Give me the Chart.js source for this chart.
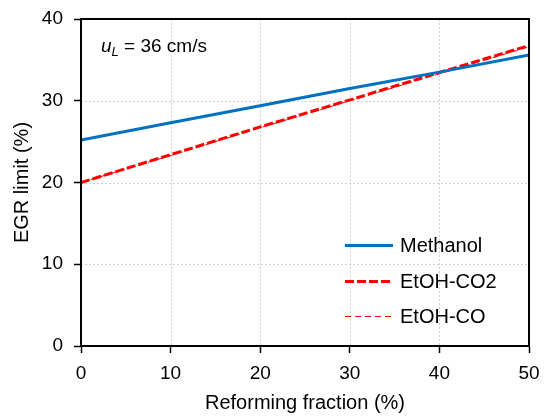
<!DOCTYPE html>
<html>
<head>
<meta charset="utf-8">
<script src="https://cdn.jsdelivr.net/npm/chart.js@4"></script>
<style>
  html, body { margin: 0; padding: 0; background: #fff; }
  #wrap { width: 544px; height: 417px; }
</style>
</head>
<body>
<div id="wrap"><canvas id="egrChart" width="544" height="417"></canvas></div>
<script>
// Dados
const reformingFraction = [0, 10, 20, 30, 40, 50];
const methanol = [25.2, 27.3, 29.4, 31.5, 33.5, 35.6];
const etohCO2 = [20.0, 23.4, 26.8, 30.1, 33.45, 36.75];
const etohCO = [20.0, 23.3, 26.7, 30.0, 33.3, 36.6];
const yTicks = [0, 10, 20, 30, 40];

const FONT = "'Liberation Sans', Arial, sans-serif";

function toPoints(values) {
    return reformingFraction.map((x, i) => ({ x: x, y: values[i] }));
}

// Grade pontilhada, moldura, anotação e legenda
const framePlugin = {
    id: 'frame',
    beforeDatasetsDraw(chart) {
        const { ctx, chartArea: a, scales } = chart;
        ctx.save();
        ctx.strokeStyle = '#d0d0d0';
        ctx.lineWidth = 1;
        ctx.setLineDash([2, 2]);
        scales.x.ticks.forEach(t => {
            if (t.value <= 0 || t.value >= 50) return;
            const px = Math.round(scales.x.getPixelForValue(t.value)) + 0.5;
            ctx.beginPath(); ctx.moveTo(px, a.top); ctx.lineTo(px, a.bottom); ctx.stroke();
        });
        scales.y.ticks.forEach(t => {
            if (t.value <= 0 || t.value >= 40) return;
            const py = Math.round(scales.y.getPixelForValue(t.value)) + 0.5;
            ctx.beginPath(); ctx.moveTo(a.left, py); ctx.lineTo(a.right, py); ctx.stroke();
        });
        ctx.restore();
    },
    afterDraw(chart) {
        const { ctx, chartArea: a } = chart;
        ctx.save();
        ctx.strokeStyle = '#000';
        ctx.lineWidth = 2;
        ctx.strokeRect(a.left, a.top, a.right - a.left, a.bottom - a.top);

        // Anotação u_L = 36 cm/s
        ctx.fillStyle = '#000';
        ctx.textBaseline = 'alphabetic';
        let x = a.left + 20;
        const y = a.top + 33;
        ctx.font = 'italic 19px ' + FONT;
        ctx.fillText('u', x, y);
        x += ctx.measureText('u').width;
        ctx.font = 'italic 13px ' + FONT;
        ctx.fillText('L', x, y + 4);
        x += ctx.measureText('L').width;
        ctx.font = '19px ' + FONT;
        ctx.fillText(' = 36 cm/s', x, y);

        // Legenda
        const rows = [245.5, 281.5, 316.5];
        chart.data.datasets.forEach((ds, i) => {
            const ly = rows[i];
            ctx.strokeStyle = ds.borderColor;
            ctx.lineWidth = ds.borderWidth;
            ctx.setLineDash(ds.borderDash || []);
            ctx.beginPath(); ctx.moveTo(345, ly); ctx.lineTo(393, ly); ctx.stroke();
            ctx.setLineDash([]);
            ctx.font = '20px ' + FONT;
            ctx.textBaseline = 'middle';
            ctx.fillText(ds.label, 400, ly + 1);
        });
        ctx.restore();
    }
};

document.addEventListener("DOMContentLoaded", () => {
    const ctx = document.getElementById('egrChart').getContext('2d');

    new Chart(ctx, {
        type: 'line',
        data: {
            datasets: [
                {
                    label: 'Methanol',
                    data: toPoints(methanol),
                    borderColor: '#0070C0',
                    borderWidth: 3,
                    pointRadius: 0,
                    fill: false
                },
                {
                    label: 'EtOH-CO2',
                    data: toPoints(etohCO2),
                    borderColor: '#FF0000',
                    borderWidth: 3,
                    borderDash: [9, 3],
                    pointRadius: 0,
                    fill: false
                },
                {
                    label: 'EtOH-CO',
                    data: toPoints(etohCO),
                    borderColor: '#FF0000',
                    borderWidth: 1,
                    borderDash: [6, 4],
                    pointRadius: 0,
                    fill: false
                }
            ]
        },
        options: {
            responsive: false,
            animation: false,
            layout: { padding: { left: 0, top: 19, right: 15, bottom: 0 } },
            plugins: {
                legend: { display: false },
                tooltip: { enabled: false }
            },
            scales: {
                x: {
                    type: 'linear',
                    min: 0,
                    max: 50,
                    afterFit: s => {
                        s.height = 71;
                        s.paddingLeft = 0;
                        s.paddingRight = 0;
                    },
                    ticks: {
                        stepSize: 10,
                        color: '#000',
                        padding: 9,
                        font: { family: FONT, size: 19 }
                    },
                    grid: {
                        drawOnChartArea: false,
                        drawTicks: true,
                        tickLength: 7,
                        tickColor: '#000',
                        tickWidth: 1.5
                    },
                    border: { display: true, color: '#000', width: 2 },
                    title: {
                        display: true,
                        text: 'Reforming fraction (%)',
                        color: '#000',
                        font: { family: FONT, size: 20 },
                        padding: { top: 0, bottom: 2 }
                    }
                },
                y: {
                    min: 0,
                    max: 40,
                    afterFit: s => {
                        s.width = 81;
                        s.paddingTop = 0;
                        s.paddingBottom = 0;
                    },
                    afterBuildTicks: s => { s.ticks = yTicks.map(v => ({ value: v })); },
                    ticks: {
                        color: '#000',
                        padding: 11,
                        font: { family: FONT, size: 19 }
                    },
                    grid: {
                        drawOnChartArea: false,
                        drawTicks: true,
                        tickLength: 7,
                        tickColor: '#000',
                        tickWidth: 1.5
                    },
                    border: { display: true, color: '#000', width: 2 },
                    title: {
                        display: true,
                        text: 'EGR limit (%)',
                        color: '#000',
                        font: { family: FONT, size: 20 },
                        padding: { top: 10, bottom: 0 }
                    }
                }
            }
        },
        plugins: [framePlugin]
    });
});
</script>
</body>
</html>
